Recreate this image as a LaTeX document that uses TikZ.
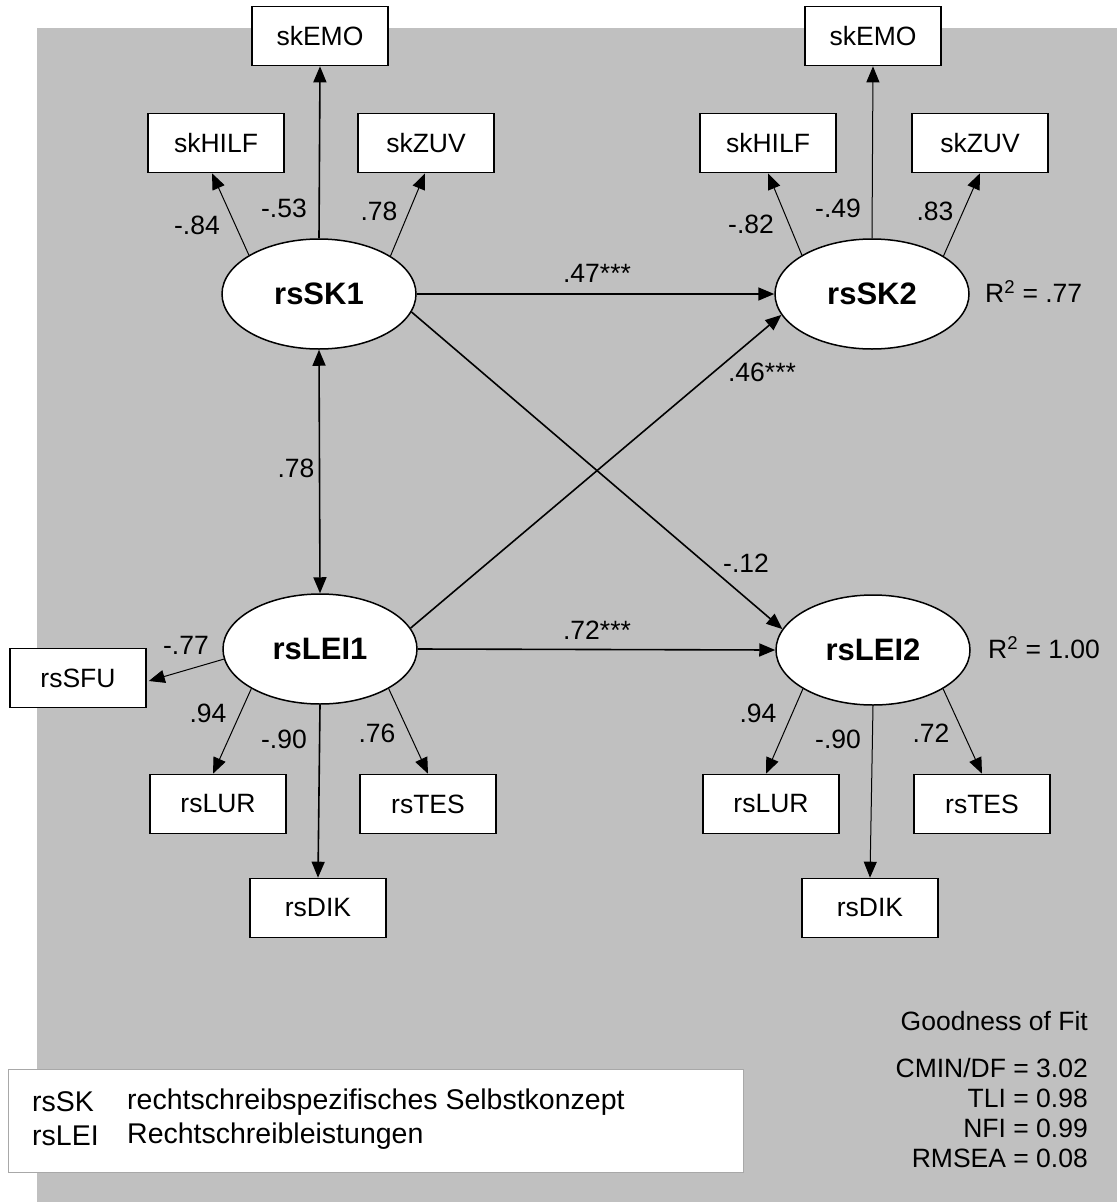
\documentclass[tikz,border=0pt]{standalone}
\usepackage{fontspec}
\setmainfont{Liberation Sans}
\usetikzlibrary{arrows.meta,calc,shapes.geometric}
\definecolor{bggray}{HTML}{C0C0C0}
\definecolor{legborder}{HTML}{A8A8A8}
\begin{document}
\begin{tikzpicture}[x=1pt,y=-1pt,
  lat/.style={ellipse,draw,fill=white,line width=1.5pt,minimum width=194pt,minimum height=110pt,inner sep=0pt,font=\fontsize{31}{37}\selectfont\bfseries},
  ind/.style={rectangle,draw,fill=white,line width=1.6pt,minimum width=136pt,minimum height=59pt,inner sep=0pt,font=\fontsize{26.5}{31}\selectfont},
  lbl/.style={font=\fontsize{26.5}{31}\selectfont,inner sep=0pt},
  leg/.style={font=\fontsize{28.5}{34}\selectfont,inner sep=0pt},
  arrA/.style={-{Triangle[length=16pt,width=13pt]},line width=1.6pt},
  arrB/.style={-{Triangle[length=16pt,width=13pt]},line width=1pt},
  arrD/.style={{Triangle[length=16pt,width=13pt]}-{Triangle[length=16pt,width=13pt]},line width=1.6pt}
]
\useasboundingbox (0,0) rectangle (1117,1202);
\fill[bggray] (37,28) rectangle (1117,1202);

% latent variables
\node[lat] (sk1) at (319,294) {rsSK1};
\node[lat] (sk2) at (872,294) {rsSK2};
\node[lat] (lei1) at (320,649) {rsLEI1};
\node[lat] (lei2) at (873,650) {rsLEI2};

% indicators
\node[ind] (emo1) at (320,36) {skEMO};
\node[ind] (hilf1) at (216,143) {skHILF};
\node[ind] (zuv1) at (426,143) {skZUV};
\node[ind] (emo2) at (873,36) {skEMO};
\node[ind] (hilf2) at (768,143) {skHILF};
\node[ind] (zuv2) at (980,143) {skZUV};
\node[ind] (sfu) at (78,678) {rsSFU};
\node[ind] (lur1) at (218,804) {rsLUR};
\node[ind] (tes1) at (428,804) {rsTES};
\node[ind] (dik1) at (318,908) {rsDIK};
\node[ind] (lur2) at (771,804) {rsLUR};
\node[ind] (tes2) at (982,804) {rsTES};
\node[ind] (dik2) at (870,908) {rsDIK};

% measurement arrows
\draw[arrA] (sk1.north) -- (emo1.south);
\draw[arrB] (sk1.151.8) -- ($(hilf1.south)+(-4,0)$);
\draw[arrB] (sk1.28.2) -- ($(zuv1.south)+(-1,0)$);
\draw[arrB] (sk2.north) -- (emo2.south);
\draw[arrB] (sk2.151.8) -- (hilf2.south);
\draw[arrB] (sk2.28.2) -- (zuv2.south);
\draw[arrB] (lei1.186) -- ($(sfu.east)+(2,3)$);
\draw[arrB] (lei1.210) -- ($(lur1.north)+(-5,0)$);
\draw[arrB] (lei1.330) -- (tes1.north);
\draw[arrA] (lei1.south) -- (dik1.north);
\draw[arrB] (lei2.209) -- ($(lur2.north)+(-5,0)$);
\draw[arrB] (lei2.331) -- (tes2.north);
\draw[arrB] (lei2.south) -- (dik2.north);

% structural arrows
\draw[arrD] (sk1.south) -- (lei1.north);
\draw[arrA] (sk1.east) -- (sk2.west);
\draw[arrA] (lei1.east) -- (lei2.west);
\draw[arrA] (sk1.-11) -- (lei2.167);
\draw[arrA] (lei1.13.5) -- (sk2.193);

% loadings
\node[lbl] (l1) at (197,225) {-.84};
\node[lbl] (l2) at (284,208) {-.53};
\node[lbl] (l3) at (379,211) {.78};
\node[lbl] (l4) at (751,224) {-.82};
\node[lbl] (l5) at (838,208) {-.49};
\node[lbl] (l6) at (935,211) {.83};
\node[lbl] (l7) at (186,645) {-.77};
\node[lbl] (l8) at (208,713) {.94};
\node[lbl] (l9) at (284,739) {-.90};
\node[lbl] (l10) at (377,733) {.76};
\node[lbl] (l11) at (758,713) {.94};
\node[lbl] (l12) at (838,739) {-.90};
\node[lbl] (l13) at (931,733) {.72};

% path labels
\node[lbl] (p1) at (597,273) {.47***};
\node[lbl] (p2) at (762,372) {.46***};
\node[lbl] (p3) at (296,468) {.78};
\node[lbl] (p4) at (746,563) {-.12};
\node[lbl] (p5) at (597,630) {.72***};
\node[lbl,anchor=west] (r1) at (985,292) {R\textsuperscript{2} = .77};
\node[lbl,anchor=west] (r2) at (988,648) {R\textsuperscript{2} = 1.00};

% fit
\node[lbl,anchor=east] (gof) at (1088,1021) {Goodness of Fit};
\node[lbl,anchor=east] (f1) at (1088,1068) {CMIN/DF = 3.02};
\node[lbl,anchor=east] (f2) at (1088,1098) {TLI = 0.98};
\node[lbl,anchor=east] (f3) at (1088,1128) {NFI = 0.99};
\node[lbl,anchor=east] (f4) at (1088,1158) {RMSEA = 0.08};

% legend
\draw[legborder,fill=white,line width=1pt] (8,1069) rectangle (743,1172);
\node[leg,anchor=west] (g1) at (32,1102) {rsSK};
\node[leg,anchor=west] (g2) at (127,1102) {rechtschreibspezifisches Selbstkonzept};
\node[leg,anchor=west] (g3) at (32,1136) {rsLEI};
\node[leg,anchor=west] (g4) at (127,1136) {Rechtschreibleistungen};
\end{tikzpicture}
\end{document}
